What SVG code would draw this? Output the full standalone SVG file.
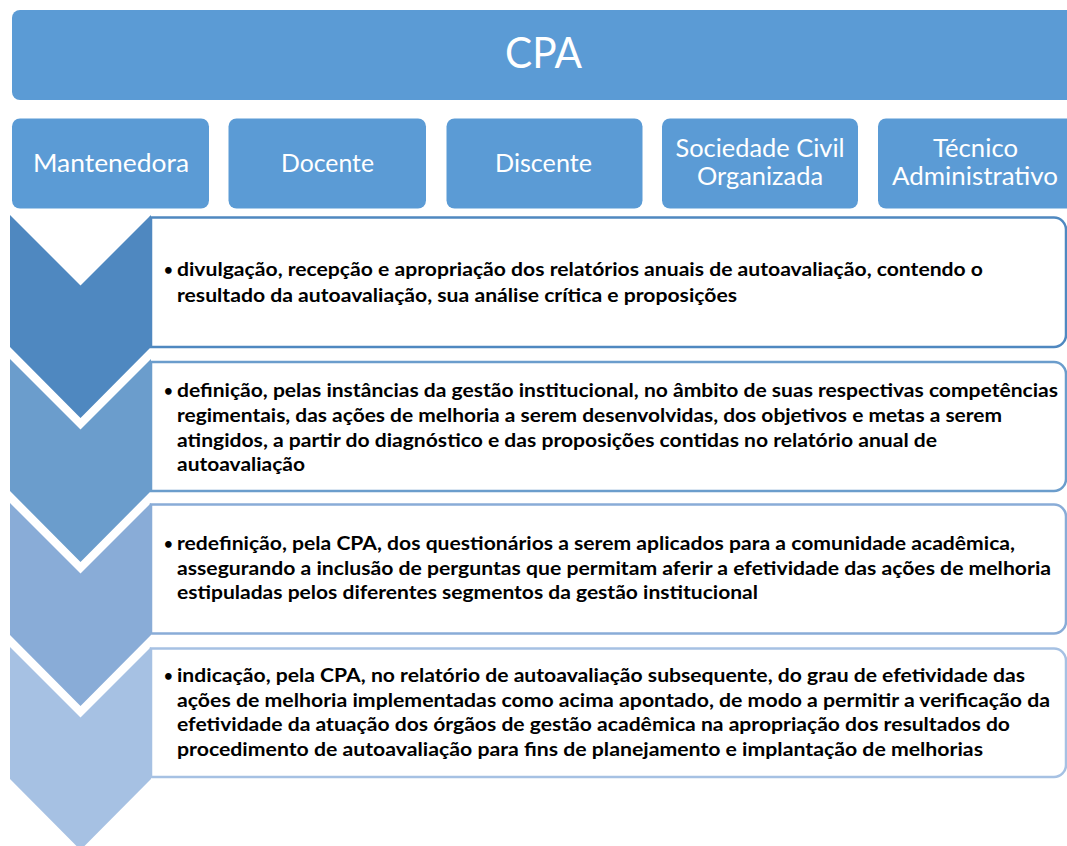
<svg xmlns="http://www.w3.org/2000/svg" width="1067" height="846" viewBox="0 0 1067 846">
<style>
.hdr{fill:#5b9bd5}
.ht{font-family:Lato,"Open Sans","Liberation Sans",sans-serif;fill:#ffffff;text-anchor:middle;font-size:25px}
.cpa{font-size:42px}
.bt{font-family:Lato,"Open Sans","Liberation Sans",sans-serif;font-weight:bold;font-size:18px;fill:#000000}
.bul{font-family:Lato,"Open Sans","Liberation Sans",sans-serif;font-weight:bold;font-size:15px;fill:#000000}
.box{fill:#ffffff;stroke-width:2.5}
</style>
<rect width="1067" height="846" fill="#ffffff"/>
<g id="cpa">
<rect class="hdr" x="12" y="10" width="1064" height="90" rx="8"/>
<text class="ht cpa" x="543.5" y="68" textLength="77" lengthAdjust="spacingAndGlyphs">CPA</text>
</g>
<g id="mantenedora">
<rect class="hdr" x="12" y="118.5" width="197" height="90" rx="8"/>
<text class="ht" x="111" y="172" textLength="156" lengthAdjust="spacingAndGlyphs">Mantenedora</text>
</g>
<g id="docente">
<rect class="hdr" x="228.5" y="118.5" width="197.5" height="90" rx="8"/>
<text class="ht" x="327.5" y="172" textLength="93" lengthAdjust="spacingAndGlyphs">Docente</text>
</g>
<g id="discente">
<rect class="hdr" x="446.5" y="118.5" width="196" height="90" rx="8"/>
<text class="ht" x="543.5" y="172" textLength="97" lengthAdjust="spacingAndGlyphs">Discente</text>
</g>
<g id="sociedade">
<rect class="hdr" x="662" y="118.5" width="196" height="90" rx="8"/>
<text class="ht" x="760" y="157" textLength="169" lengthAdjust="spacingAndGlyphs">Sociedade Civil</text>
<text class="ht" x="760" y="185" textLength="126" lengthAdjust="spacingAndGlyphs">Organizada</text>
</g>
<g id="tecnico">
<rect class="hdr" x="878" y="118.5" width="196" height="90" rx="8"/>
<text class="ht" x="975.5" y="157" textLength="85" lengthAdjust="spacingAndGlyphs">Técnico</text>
<text class="ht" x="975" y="185" textLength="166" lengthAdjust="spacingAndGlyphs">Administrativo</text>
</g>
<g id="step1">
<path class="box" stroke="#4f88c0" d="M151,217.5 H1054 A12,12 0 0 1 1066,229.5 V335 A12,12 0 0 1 1054,347 H151 Z"/>
<polygon fill="#4f88c0" points="10,215 80.5,285.5 151,215 151,347 80.5,418 10,347"/>
<text class="bul" x="164" y="275">•</text>
<text class="bt" x="177" y="276" textLength="806" lengthAdjust="spacingAndGlyphs">divulgação, recepção e apropriação dos relatórios anuais de autoavaliação, contendo o</text>
<text class="bt" x="177" y="301.5" textLength="560" lengthAdjust="spacingAndGlyphs">resultado da autoavaliação, sua análise crítica e proposições</text>
</g>
<g id="step2">
<path class="box" stroke="#6b9dcc" d="M151,362 H1054 A12,12 0 0 1 1066,374 V479 A12,12 0 0 1 1054,491 H151 Z"/>
<polygon fill="#6b9dcc" points="10,359 80.5,429.5 151,359 151,491 80.5,562 10,491"/>
<text class="bul" x="164" y="396">•</text>
<text class="bt" x="177" y="397" textLength="881" lengthAdjust="spacingAndGlyphs">definição, pelas instâncias da gestão institucional, no âmbito de suas respectivas competências</text>
<text class="bt" x="177" y="422" textLength="825" lengthAdjust="spacingAndGlyphs">regimentais, das ações de melhoria a serem desenvolvidas, dos objetivos e metas a serem</text>
<text class="bt" x="177" y="446.5" textLength="760" lengthAdjust="spacingAndGlyphs">atingidos, a partir do diagnóstico e das proposições contidas no relatório anual de</text>
<text class="bt" x="177" y="471" textLength="128" lengthAdjust="spacingAndGlyphs">autoavaliação</text>
</g>
<g id="step3">
<path class="box" stroke="#89acd7" d="M151,504.5 H1054 A12,12 0 0 1 1066,516.5 V621.5 A12,12 0 0 1 1054,633.5 H151 Z"/>
<polygon fill="#89acd7" points="10,503 80.5,573.5 151,503 151,635 80.5,706 10,635"/>
<text class="bul" x="164" y="549">•</text>
<text class="bt" x="177" y="550" textLength="838" lengthAdjust="spacingAndGlyphs">redefinição, pela CPA, dos questionários a serem aplicados para a comunidade acadêmica,</text>
<text class="bt" x="177" y="574.5" textLength="874" lengthAdjust="spacingAndGlyphs">assegurando a inclusão de perguntas que permitam aferir a efetividade das ações de melhoria</text>
<text class="bt" x="177" y="599" textLength="581" lengthAdjust="spacingAndGlyphs">estipuladas pelos diferentes segmentos da gestão institucional</text>
</g>
<g id="step4">
<path class="box" stroke="#a6c1e3" d="M151,648.5 H1054 A12,12 0 0 1 1066,660.5 V765 A12,12 0 0 1 1054,777 H151 Z"/>
<polygon fill="#a6c1e3" points="10,647 80.5,717.5 151,647 151,779 80.5,850 10,779"/>
<text class="bul" x="164" y="681">•</text>
<text class="bt" x="177" y="682" textLength="848" lengthAdjust="spacingAndGlyphs">indicação, pela CPA, no relatório de autoavaliação subsequente, do grau de efetividade das</text>
<text class="bt" x="177" y="706.5" textLength="873" lengthAdjust="spacingAndGlyphs">ações de melhoria implementadas como acima apontado, de modo a permitir a verificação da</text>
<text class="bt" x="177" y="731" textLength="833" lengthAdjust="spacingAndGlyphs">efetividade da atuação dos órgãos de gestão acadêmica na apropriação dos resultados do</text>
<text class="bt" x="177" y="755.5" textLength="806" lengthAdjust="spacingAndGlyphs">procedimento de autoavaliação para fins de planejamento e implantação de melhorias</text>
</g>
<g id="connectors"/>
</svg>
